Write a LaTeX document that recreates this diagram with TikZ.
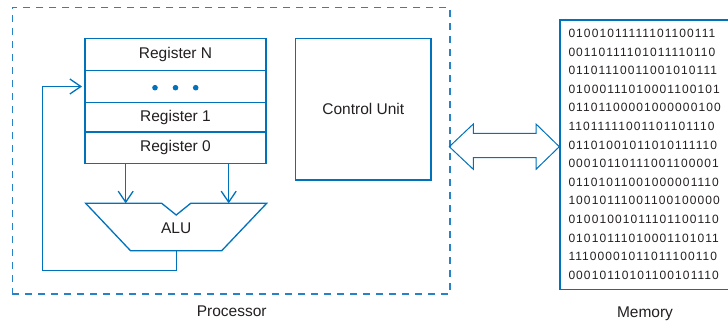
\documentclass[tikz,border=0pt]{standalone}
\usepackage{fontspec}
\setmainfont{Liberation Sans}
\newfontfamily\digitfont[LetterSpace=9]{Liberation Sans}
\usetikzlibrary{arrows.meta}
\definecolor{lineblue}{RGB}{0,114,188}
\definecolor{dashblue}{RGB}{40,130,200}
\definecolor{txt}{RGB}{35,31,32}
\begin{document}
\begin{tikzpicture}[x=1pt,y=-1pt,
  box/.style={draw=lineblue, line width=1.3pt, inner sep=0pt, outer sep=0pt, text=txt, font=\fontsize{15.5}{18}\selectfont},
  regcell/.style={box, minimum width=181pt, anchor=north west},
  lbl/.style={text=txt, font=\fontsize{15.5}{18}\selectfont, inner sep=0pt},
  conn/.style={draw=lineblue, line width=1.3pt},
  barb/.style={-{Straight Barb[length=11pt,width=15pt]}},
  memline/.style={text=txt, font=\digitfont\fontsize{12}{14}\selectfont, inner sep=0pt, anchor=base west},
]
\clip (0,0) rectangle (728,323);
% processor frame
\node[draw=dashblue, line width=1.5pt, dash pattern=on 7pt off 6pt, minimum width=437.7pt, minimum height=286.7pt, anchor=north west, inner sep=0pt, outer sep=0pt] (proc) at (12.3,7.3) {};
\node[lbl] (proclbl) at (231.7,311.7) {Processor};
% registers
\node[regcell, minimum height=32.4pt] (regN) at (85,38.3) {Register N};
\node[regcell, minimum height=31.6pt] (regdots) at (85,70.7) {};
\node[regcell, minimum height=29.7pt] (reg1) at (85,102.3) {Register 1};
\node[regcell, minimum height=31.7pt] (reg0) at (85,132) {Register 0};
\fill[lineblue] (155,87.7) circle (2.8pt) (175.5,87.7) circle (2.8pt) (195.7,87.7) circle (2.8pt);
% ALU
\draw[conn, line join=miter] (85.7,203.3) -- (161.7,203.3) -- (176.2,215) -- (190.7,203.3) -- (266.7,203.3) -- (221.7,250.7) -- (130.5,250.7) -- cycle;
\node[lbl] (alu) at (176.2,228) {ALU};
\coordinate (aluA) at (125.7,203.3);
\coordinate (aluB) at (228.7,203.3);
\coordinate (aluOut) at (176.2,250.7);
\coordinate (fbDown) at (176.2,270.7);
\coordinate (fbLeft) at (42.7,270.7);
\draw[conn, barb] (reg0.south -| aluA) -- (aluA);
\draw[conn, barb] (reg0.south -| aluB) -- (aluB);
\draw[conn, barb, shorten >=3pt] (aluOut) -- (fbDown) -- (fbLeft) |- (regdots.west);
% control unit
\node[box, minimum width=135.3pt, minimum height=141.7pt, anchor=north west] (cu) at (295.7,38.3) {Control Unit};
% bus arrow
\coordinate (busL) at (449.3,146.7);
\coordinate (busR) at (559.3,146.7);
\draw[draw=lineblue, line width=1pt, line join=miter] (busL) -- ++(24,-22.7) -- ++(0,9.3) -- ++(62.7,0) -- ++(0,-9.3) -- (busR) -- ++(-23.3,22.6) -- ++(0,-11.6) -- ++(-62.7,0) -- ++(0,11.6) -- cycle;
% memory
\node[box, minimum width=180pt, minimum height=269.3pt, anchor=north west] (mem) at (560,20) {};
\foreach \l [count=\i from 0] in {01001011111101100111,00110111101011110110,01101110011001010111,01000111010001100101,01101100001000000100,11011111001101101110,01101001011010111110,00010110111001100001,01101011001000001110,10010111001100100000,01001001011101100110,01010111010001101011,11100001011011100110,00010110101100101110}
  \node[memline] (m\i) at (568.3,{37.6+18.6*\i}) {\l};
\node[lbl] (memlbl) at (645,313.3) {Memory};
\end{tikzpicture}
\end{document}
